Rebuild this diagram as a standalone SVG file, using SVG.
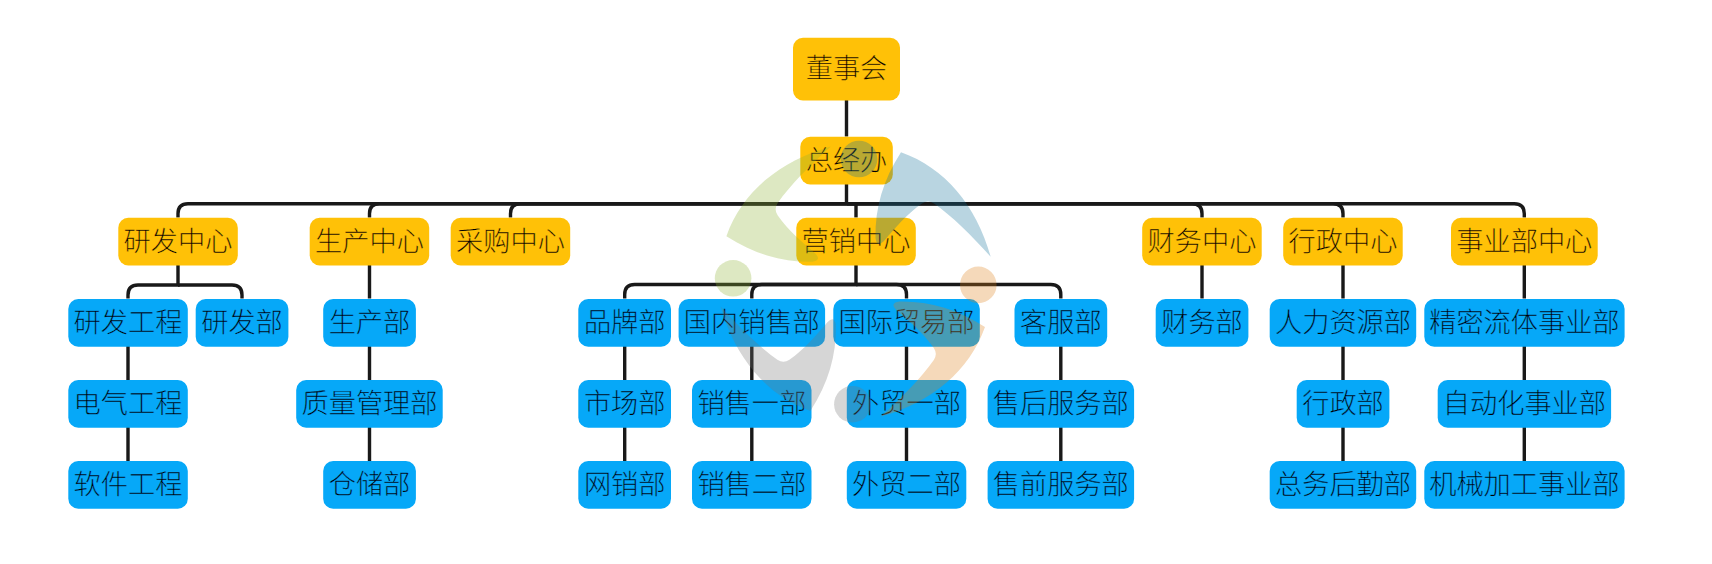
<svg xmlns="http://www.w3.org/2000/svg" xmlns:xlink="http://www.w3.org/1999/xlink" width="1712" height="564" viewBox="0 0 1712 564">
<style>
text{font-family:"Noto Sans CJK SC","Noto Sans",sans-serif;font-size:27.2px;font-weight:300;fill:#000;text-anchor:middle;dominant-baseline:central;transform:translateY(-2.2px);stroke-width:.28px}
.y{fill:#ffc107;transform:translateY(.5px)}
.b{fill:#06a8f8;transform:translateY(.5px)}
.y+text{stroke:#ffc107}
.b+text{stroke:#06a8f8}
#connectors path{fill:none;stroke:#191919;stroke-width:3.4}
.wm{opacity:.3}
</style>
<defs>
<g id="mark">
<circle cx="859" cy="159" r="18.3"/>
<path d="M901 152.300C945 168 976 205 990.700 256.700C972 236 952 216 934 203.500Q928 199.500 922 203.500C907 214 895 228 884 241Q877 248 875.500 238C875 208 883 180 901 152.300Z"/>
</g>
</defs>
<rect width="1712" height="564" fill="#fff"/>
<g id="connectors">
<path d="M846.500 100V136.500M846.500 184V203.700"/>
<path d="M846.500 203.700H188Q178 203.700 178 213.700V217.500"/>
<path d="M846.500 203.700H379.500Q369.500 203.700 369.500 213.700V217.500"/>
<path d="M846.500 203.700H520.500Q510.500 203.700 510.500 213.700V217.500"/>
<path d="M846.500 203.700H856V217.500"/>
<path d="M846.500 203.700H1192Q1202 203.700 1202 213.700V217.500"/>
<path d="M846.500 203.700H1333Q1343 203.700 1343 213.700V217.500"/>
<path d="M846.500 203.700H1514.300Q1524.300 203.700 1524.300 213.700V217.500"/>
<path d="M178 265V285H138Q128 285 128 295V298.500"/>
<path d="M178 285H232Q242 285 242 295V298.500"/>
<path d="M128 346V380M128 427V461"/>
<path d="M369.500 265V298.500M369.500 346V380M369.500 427V461"/>
<path d="M856 265V284.500H634.700Q624.700 284.500 624.700 294.500V298.500"/>
<path d="M856 284.500H761.800Q751.800 284.500 751.800 294.500V298.500"/>
<path d="M856 284.500H896.500Q906.500 284.500 906.500 294.500V298.500"/>
<path d="M856 284.500H1050.800Q1060.800 284.500 1060.800 294.500V298.500"/>
<path d="M624.700 346V380M624.700 427V461"/>
<path d="M751.800 346V380M751.800 427V461"/>
<path d="M906.500 346V380M906.500 427V461"/>
<path d="M1060.800 346V380M1060.800 427V461"/>
<path d="M1202 265V298.500"/>
<path d="M1343 265V298.500M1343 346V380M1343 427V461"/>
<path d="M1524.300 265V298.500M1524.300 346V380M1524.300 427V461"/>
</g>
<g id="n-root"><rect class="y" x="793" y="37.300" width="107" height="62.700" rx="10"/><text x="846.500" y="68.500">董事会</text></g>
<g id="n-gm"><rect class="y" x="800.300" y="136.300" width="92.500" height="47.700" rx="10"/><text x="846.500" y="160">总经办</text></g>
<g id="n-rd"><rect class="y" x="118.300" y="217.300" width="119.500" height="47.700" rx="10"/><text x="178" y="241">研发中心</text></g>
<g id="n-prod"><rect class="y" x="309.700" y="217.300" width="119.500" height="47.700" rx="10"/><text x="369.500" y="241">生产中心</text></g>
<g id="n-purch"><rect class="y" x="450.700" y="217.300" width="119.500" height="47.700" rx="10"/><text x="510.500" y="241">采购中心</text></g>
<g id="n-mkt"><rect class="y" x="796.300" y="217.300" width="119.500" height="47.700" rx="10"/><text x="856" y="241">营销中心</text></g>
<g id="n-fin"><rect class="y" x="1142.200" y="217.300" width="119.500" height="47.700" rx="10"/><text x="1202" y="241">财务中心</text></g>
<g id="n-adm"><rect class="y" x="1283.200" y="217.300" width="119.500" height="47.700" rx="10"/><text x="1343" y="241">行政中心</text></g>
<g id="n-biz"><rect class="y" x="1451" y="217.300" width="146.700" height="47.700" rx="10"/><text x="1524.300" y="241">事业部中心</text></g>
<g id="n-a1"><rect class="b" x="68.300" y="298.500" width="119.500" height="47.700" rx="10"/><text x="128" y="322.300">研发工程</text></g>
<g id="n-a2"><rect class="b" x="195.700" y="298.500" width="92.700" height="47.700" rx="10"/><text x="242" y="322.300">研发部</text></g>
<g id="n-a3"><rect class="b" x="68.300" y="379.500" width="119.500" height="47.700" rx="10"/><text x="128" y="403.300">电气工程</text></g>
<g id="n-a4"><rect class="b" x="68.300" y="460.500" width="119.500" height="47.700" rx="10"/><text x="128" y="484.300">软件工程</text></g>
<g id="n-b1"><rect class="b" x="323.200" y="298.500" width="92.700" height="47.700" rx="10"/><text x="369.500" y="322.300">生产部</text></g>
<g id="n-b2"><rect class="b" x="296.200" y="379.500" width="146.500" height="47.700" rx="10"/><text x="369.500" y="403.300">质量管理部</text></g>
<g id="n-b3"><rect class="b" x="323.200" y="460.500" width="92.700" height="47.700" rx="10"/><text x="369.500" y="484.300">仓储部</text></g>
<g id="n-c1"><rect class="b" x="578.300" y="298.500" width="92.700" height="47.700" rx="10"/><text x="624.700" y="322.300">品牌部</text></g>
<g id="n-c2"><rect class="b" x="578.300" y="379.500" width="92.700" height="47.700" rx="10"/><text x="624.700" y="403.300">市场部</text></g>
<g id="n-c3"><rect class="b" x="578.300" y="460.500" width="92.700" height="47.700" rx="10"/><text x="624.700" y="484.300">网销部</text></g>
<g id="n-d1"><rect class="b" x="678.600" y="298.500" width="146.500" height="47.700" rx="10"/><text x="751.800" y="322.300">国内销售部</text></g>
<g id="n-d2"><rect class="b" x="692" y="379.500" width="119.500" height="47.700" rx="10"/><text x="751.800" y="403.300">销售一部</text></g>
<g id="n-d3"><rect class="b" x="692" y="460.500" width="119.500" height="47.700" rx="10"/><text x="751.800" y="484.300">销售二部</text></g>
<g id="n-e1"><rect class="b" x="833.300" y="298.500" width="146.500" height="47.700" rx="10"/><text x="906.500" y="322.300">国际贸易部</text></g>
<g id="n-e2"><rect class="b" x="846.800" y="379.500" width="119.500" height="47.700" rx="10"/><text x="906.500" y="403.300">外贸一部</text></g>
<g id="n-e3"><rect class="b" x="846.800" y="460.500" width="119.500" height="47.700" rx="10"/><text x="906.500" y="484.300">外贸二部</text></g>
<g id="n-f1"><rect class="b" x="1014.500" y="298.500" width="92.700" height="47.700" rx="10"/><text x="1060.800" y="322.300">客服部</text></g>
<g id="n-f2"><rect class="b" x="987.600" y="379.500" width="146.500" height="47.700" rx="10"/><text x="1060.800" y="403.300">售后服务部</text></g>
<g id="n-f3"><rect class="b" x="987.600" y="460.500" width="146.500" height="47.700" rx="10"/><text x="1060.800" y="484.300">售前服务部</text></g>
<g id="n-g1"><rect class="b" x="1155.700" y="298.500" width="92.700" height="47.700" rx="10"/><text x="1202" y="322.300">财务部</text></g>
<g id="n-h1"><rect class="b" x="1269.700" y="298.500" width="146.500" height="47.700" rx="10"/><text x="1343" y="322.300">人力资源部</text></g>
<g id="n-h2"><rect class="b" x="1296.700" y="379.500" width="92.700" height="47.700" rx="10"/><text x="1343" y="403.300">行政部</text></g>
<g id="n-h3"><rect class="b" x="1269.700" y="460.500" width="146.500" height="47.700" rx="10"/><text x="1343" y="484.300">总务后勤部</text></g>
<g id="n-i1"><rect class="b" x="1424.300" y="298.500" width="200.300" height="47.700" rx="10"/><text x="1524.400" y="322.300">精密流体事业部</text></g>
<g id="n-i2"><rect class="b" x="1437.700" y="379.500" width="173.400" height="47.700" rx="10"/><text x="1524.400" y="403.300">自动化事业部</text></g>
<g id="n-i3"><rect class="b" x="1424.300" y="460.500" width="200.300" height="47.700" rx="10"/><text x="1524.400" y="484.300">机械加工事业部</text></g>
<g id="watermark" class="wm">
<use xlink:href="#mark" fill="#14749c"/>
<use xlink:href="#mark" fill="#de8019" transform="rotate(90 855.7 281.6)"/>
<use xlink:href="#mark" fill="#767676" transform="rotate(180 855.7 281.6)"/>
<use xlink:href="#mark" fill="#8eb234" transform="rotate(270 855.7 281.6)"/>
</g>
</svg>
